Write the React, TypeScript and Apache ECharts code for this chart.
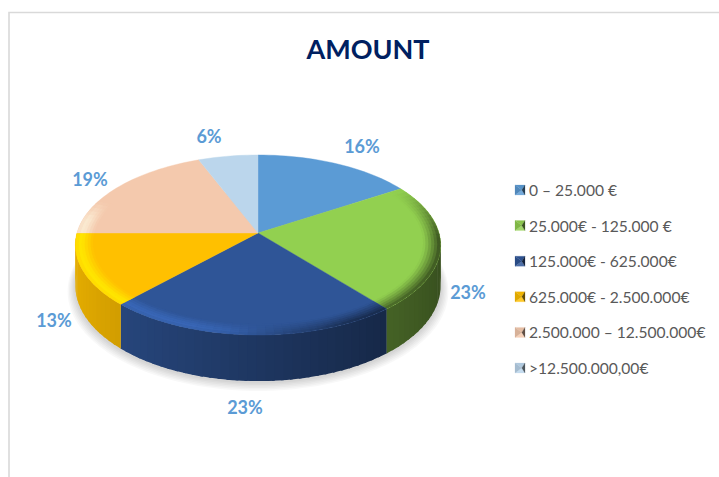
import React, { useEffect, useRef } from "react";
import * as echarts from "echarts";

const titleText = "AMOUNT";
const categories = [
  "0 – 25.000 €",
  "25.000€ - 125.000 €",
  "125.000€ - 625.000€",
  "625.000€ - 2.500.000€",
  "2.500.000 – 12.500.000€",
  ">12.500.000,00€",
];
const shares = [16, 23, 23, 13, 19, 6];
const colors = ["#5b9bd5", "#92d050", "#2f5597", "#ffc000", "#f4c9ad", "#bbd6ec"];
const labelPositions = [
  [362, 146],
  [468, 292],
  [245, 407],
  [54, 320],
  [90, 179],
  [209, 136],
];

const FONT = "Lato, 'Open Sans', sans-serif";
const CX = 258, CY = 233, A = 181, B = 88.4, P = 0.133, DEPTH = 40;

type RGB = [number, number, number];
const hex = (c: string): RGB => [1, 3, 5].map((i) => parseInt(c.slice(i, i + 2), 16)) as RGB;
const css = (c: RGB) => `rgb(${c.map((x) => Math.round(Math.min(255, Math.max(0, x)))).join(",")})`;
const mix = (a: RGB, b: RGB, t: number): RGB => [0, 1, 2].map((i) => a[i] + (b[i] - a[i]) * t) as RGB;
const scale = (a: RGB, f: number): RGB => a.map((x) => Math.min(255, x * f)) as RGB;
const clamp = (x: number, a = 0, b = 1) => Math.min(b, Math.max(a, x));
const rad = (d: number) => (d * Math.PI) / 180;

function project(r: number, deg: number, depth = 0, dy = 0): number[] {
  const u = r * Math.sin(rad(deg));
  const v = -r * Math.cos(rad(deg));
  const w = 1 - P * v;
  return [CX + (A * u) / w, CY + (B * v) / w + depth / w + dy];
}

function arcPoints(r: number, from: number, to: number, depth = 0, dy = 0): number[][] {
  const n = Math.max(1, Math.ceil(Math.abs(to - from) / 2));
  const pts: number[][] = [];
  for (let i = 0; i <= n; i++) pts.push(project(r, from + ((to - from) * i) / n, depth, dy));
  return pts;
}

const wallColor = (base: RGB, deg: number): RGB => scale(base, 0.64 - 0.26 * Math.sin(rad(deg)));

function renderSlice(params: any, api: any) {
  const index = params.dataIndex;
  const total = shares.reduce((s, x) => s + x, 0);
  const before = shares.slice(0, index).reduce((s, x) => s + x, 0);
  const start = (before / total) * 360;
  const end = ((before + api.value(0)) / total) * 360;
  const base = hex(colors[index]);
  const children: any[] = [];

  if (index === 0) {
    for (let i = 6; i >= 1; i--) {
      children.push({
        type: "polygon",
        silent: true,
        shape: { points: arcPoints(1 + i * 0.007, 0, 360, DEPTH, 1 + i * 0.6) },
        style: { fill: "#000", opacity: 0.028 },
      });
    }
  }

  // side wall, front half only; each strip overlaps the next to hide seams
  const wallFrom = Math.max(start, 90);
  const wallTo = Math.min(end, 270);
  const step = 2.5;
  for (let d = wallFrom; d < wallTo; d += step) {
    const e = Math.min(d + step, wallTo);
    const e2 = Math.min(e + 0.8, wallTo);
    children.push({
      type: "polygon",
      silent: true,
      shape: { points: [...arcPoints(1, d, e2), ...arcPoints(1, e2, d, DEPTH)] },
      style: { fill: css(wallColor(base, (d + e) / 2)) },
    });
  }

  // top face
  const fill = colors[index];
  children.push({
    type: "polygon",
    silent: true,
    shape: { points: [[CX, CY], ...arcPoints(1, start, end)] },
    style: { fill, stroke: fill, lineWidth: 0.4 },
  });

  // soft bevel along the rim
  const bevelFrom = Math.max(start, 58);
  const bevelTo = Math.min(end, 292);
  const layers = 6;
  const inner = 0.905;
  const hl = scale(base, 1.35);
  for (let d = bevelFrom; d < bevelTo; d += step) {
    const e = Math.min(d + step, bevelTo);
    const e2 = Math.min(e + 0.8, bevelTo);
    const mid = (d + e) / 2;
    const u = Math.sin(rad(mid));
    const right = clamp((u + 0.15) / 0.6);
    const ends = clamp((mid - 58) / 35) * clamp((292 - mid) / 12);
    const lightAmp = clamp(-u * 2 + 0.35) * ends;
    for (let l = 0; l < layers; l++) {
      const r0 = inner + ((1 - inner) * l) / layers - (l ? 0.003 : 0);
      const r1 = inner + ((1 - inner) * (l + 1)) / layers;
      const p = (l + 0.5) / layers;
      const prof = p < 0.7 ? p / 0.7 : 1 - ((p - 0.7) / 0.3) * 0.35;
      const light = mix(base, hl, prof * lightAmp * 0.62);
      const dark = mix(base, wallColor(base, mid), Math.pow(p, 1.2) * ends);
      children.push({
        type: "polygon",
        silent: true,
        shape: { points: [...arcPoints(r0, d, e2), ...arcPoints(r1, e2, d)] },
        style: { fill: css(mix(light, dark, right)) },
      });
    }
  }

  const [lx, ly] = labelPositions[index];
  children.push({
    type: "text",
    silent: true,
    z2: 100,
    style: {
      text: `${api.value(0)}%`,
      x: lx,
      y: ly,
      fill: "#5b9bd5",
      fontFamily: FONT,
      fontWeight: "bold",
      fontSize: 18,
      align: "center",
      verticalAlign: "middle",
    },
  });

  return { type: "group", children };
}

function legendIcon(x: number, y: number, color: string): any[] {
  const s = 10;
  const base = hex(color);
  const mx = x + s * 0.68, my = y + s / 2;
  const tri = (pts: number[][], c: RGB) => ({
    type: "polygon",
    silent: true,
    shape: { points: pts },
    style: { fill: css(c), stroke: css(c), lineWidth: 0.2 },
  });
  return [
    tri([[x, y], [x + s, y], [mx, my]], mix(base, scale(base, 0.85), 0.4)),
    tri([[x, y + s], [x + s, y + s], [mx, my]], mix(base, [255, 255, 255], 0.15)),
    tri([[x, y], [x, y + s], [mx, my]], scale(base, 0.88)),
    tri([[x + s, y], [x + s, y + s], [mx, my]], scale(base, 0.4)),
  ];
}

export default function App() {
  const ref = useRef<HTMLDivElement>(null);
  useEffect(() => {
    const chart = echarts.init(ref.current!, undefined, { renderer: "svg" });
    const legendGraphics: any[] = [];
    categories.forEach((name, i) => {
      const y = 190 + i * 35.6;
      legendGraphics.push(...legendIcon(515, y - 5, colors[i]));
      legendGraphics.push({
        type: "text",
        silent: true,
        style: {
          text: name,
          x: 529,
          y,
          fill: "#595959",
          fontFamily: FONT,
          fontSize: 15.6,
          align: "left",
          verticalAlign: "middle",
        },
      });
    });
    chart.setOption({
      animation: false,
      backgroundColor: "#ffffff",
      title: {
        text: titleText,
        left: 363,
        top: 30,
        textAlign: "center",
        textStyle: { color: "#002060", fontFamily: FONT, fontWeight: "bold", fontSize: 27 },
      },
      graphic: [
        {
          type: "polyline",
          silent: true,
          shape: { points: [[9, 477], [9, 12.5], [719, 12.5]] },
          style: { stroke: "#d9d9d9", lineWidth: 1.6, fill: "none" },
        },
        ...legendGraphics,
      ],
      series: [
        {
          type: "custom",
          coordinateSystem: "none",
          renderItem: renderSlice,
          data: shares.map((v, i) => ({ name: categories[i], value: [v] })),
        },
      ],
    });
    return () => chart.dispose();
  }, []);
  return (
    <div
      ref={ref}
      style={{ position: "absolute", left: 0, top: 0, width: 719, height: 477 }}
    />
  );
}
